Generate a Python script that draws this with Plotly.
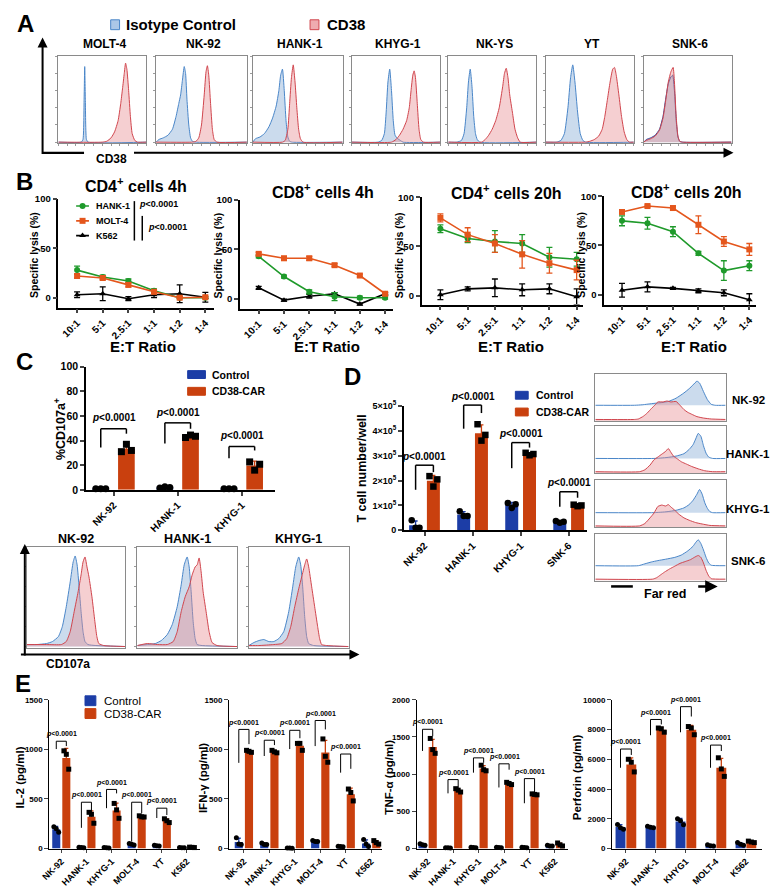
import numpy as np
import plotly.graph_objects as go

W, H = 772, 892
FONT = "Liberation Sans, Arial, Helvetica, sans-serif"
CTRL = "#1c3da6"
CAR = "#c9400e"
GREEN = "#1f9a2b"
ORANGE = "#e4561c"
ISO_LINE = "#4a86c8"
ISO_FILL = "rgba(140,175,215,0.45)"
CD38_LINE = "#d0454d"
CD38_FILL = "rgba(230,140,145,0.42)"

# ======================= DATA =======================
# ---- Panel A: flow histograms (channel 0-100, % of max) ----
A_LINES = ["MOLT-4", "NK-92", "HANK-1", "KHYG-1", "NK-YS", "YT", "SNK-6"]
A_MOLT4_ISO = [(0, 0), (26, 0), (28, 3), (29.3, 50), (30, 88), (30.7, 50), (32, 3), (34, 0), (100, 0)]
A_MOLT4_CD38 = [(0, 0), (50, 0), (55, 1), (60, 5), (64, 12), (68, 25), (71, 45), (73, 62), (75, 80), (76.5, 92),
                (78, 85), (80, 60), (82, 30), (84, 10), (87, 2), (90, 0), (100, 0)]
A_NK92_ISO = [(0, 0), (3, 3), (8, 5), (13, 8), (18, 15), (22, 30), (25, 45), (27, 55), (29, 72), (31, 88),
              (32.5, 80), (34, 50), (36, 20), (38, 5), (40, 1), (43, 0), (100, 0)]
A_NK92_CD38 = [(0, 0), (40, 0), (44, 1), (47, 5), (50, 20), (53, 55), (55, 82), (56.5, 89), (58, 78), (60, 45),
               (62, 15), (64, 3), (67, 0), (100, 0)]
A_HANK1_ISO = [(0, 0), (3, 4), (8, 6), (13, 10), (18, 18), (22, 28), (26, 42), (29, 60), (31, 78), (33, 85),
               (35, 60), (37, 25), (39, 6), (41, 1), (44, 0), (100, 0)]
A_HANK1_CD38 = [(0, 0), (33, 0), (36, 2), (39, 15), (41, 45), (43, 75), (45, 90), (47, 70), (49, 40), (51, 15),
                (53, 4), (56, 0), (100, 0)]
A_KHYG1_ISO = [(0, 0), (30, 0), (34, 2), (37, 10), (39, 35), (41, 70), (43, 85), (45, 60), (47, 25), (49, 8),
               (52, 4), (55, 2), (58, 0), (100, 0)]
A_KHYG1_CD38 = [(0, 0), (45, 0), (50, 3), (54, 8), (58, 15), (62, 25), (65, 40), (67, 60), (69, 78), (70.5, 83),
                (72, 75), (74, 45), (76, 15), (78, 3), (81, 0), (100, 0)]
A_NKYS_ISO = [(0, 0), (10, 0), (15, 2), (18, 10), (21, 40), (23, 70), (25, 85), (27, 65), (29, 30), (31, 10),
              (33, 3), (36, 0), (100, 0)]
A_NKYS_CD38 = [(0, 0), (38, 0), (42, 3), (46, 8), (50, 15), (54, 25), (58, 40), (62, 65), (64, 80), (66, 86),
               (68, 75), (70, 55), (73, 35), (76, 15), (79, 5), (82, 0), (100, 0)]
A_YT_ISO = [(0, 0), (12, 0), (17, 2), (21, 10), (25, 40), (28, 75), (30.5, 90), (33, 70), (36, 35), (39, 10),
            (42, 2), (45, 0), (100, 0)]
A_YT_CD38 = [(0, 0), (45, 0), (50, 1), (55, 3), (60, 7), (64, 15), (67, 30), (70, 50), (73, 70), (76, 85),
             (78, 87), (80, 78), (83, 55), (86, 30), (89, 12), (92, 3), (95, 0), (100, 0)]
A_SNK6_ISO = [(0, 0), (3, 3), (8, 5), (13, 8), (18, 15), (22, 30), (25, 50), (28, 68), (31, 76), (33, 78),
              (35, 60), (37, 25), (39, 6), (41, 1), (44, 0), (100, 0)]
A_SNK6_CD38 = [(0, 0), (3, 2), (8, 4), (13, 7), (18, 14), (22, 28), (25, 48), (28, 70), (31, 82), (33.5, 87),
               (35, 70), (37, 30), (39, 7), (41, 1), (44, 0), (100, 0)]

# ---- Panel B: specific lysis (%) ----
RATIOS = ["10:1", "5:1", "2.5:1", "1:1", "1:2", "1:4"]
B_CD4_4H_HANK1 = [28, 21, 17, 7, 0, 0]
B_CD4_4H_HANK1_SD = [4, 2, 2, 2, 1, 1]
B_CD4_4H_MOLT4 = [22, 20, 13, 6, 0, 0.5]
B_CD4_4H_MOLT4_SD = [2, 2, 2, 2, 1, 1]
B_CD4_4H_K562 = [3, 4, -1, 3, 4, 0.5]
B_CD4_4H_K562_SD = [3, 7, 2, 3, 9, 5]
B_CD8_4H_HANK1 = [43, 22.5, 7, 2, 1, 1]
B_CD8_4H_HANK1_SD = [1.5, 1.5, 2, 4, 1.5, 1.5]
B_CD8_4H_MOLT4 = [45.5, 41, 41, 34, 23.5, 5]
B_CD8_4H_MOLT4_SD = [1.5, 2, 2, 1.5, 1.5, 1.5]
B_CD8_4H_K562 = [11, -1.5, 2.5, 5, -5.5, 5]
B_CD8_4H_K562_SD = [1.5, 1, 2, 1, 1, 1]
B_CD4_20H_HANK1 = [68, 58, 55, 53, 39, 37]
B_CD4_20H_HANK1_SD = [4, 4, 11, 9, 10, 7]
B_CD4_20H_MOLT4 = [79, 62, 53, 42, 33, 26]
B_CD4_20H_MOLT4_SD = [4, 7, 9, 14, 10, 10]
B_CD4_20H_K562 = [1, 7, 8, 6, 7, -1]
B_CD4_20H_K562_SD = [5, 2, 9, 6, 5, 8]
B_CD8_20H_HANK1 = [75, 72.5, 64, 42, 24.5, 29.5]
B_CD8_20H_HANK1_SD = [5, 6, 5, 2, 10, 5]
B_CD8_20H_MOLT4 = [84, 90, 88, 71, 54, 46]
B_CD8_20H_MOLT4_SD = [1, 1, 2, 9, 5, 6]
B_CD8_20H_K562 = [4.5, 8, 6.5, 4, 2, -5]
B_CD8_20H_K562_SD = [7, 5, 1, 2, 3, 6]

# ---- Panel C: %CD107a+ ----
C_LINES = ["NK-92", "HANK-1", "KHYG-1"]
C_CTRL_PTS = [[1, 1, 1], [1.5, 2.5, 2], [1, 1, 1]]
C_CAR_PTS = [[31, 37, 32], [42.5, 44.5, 43.5], [22.7, 16, 20.8]]
C_NK92_CTRL = [(0, 2), (10, 2), (20, 3), (26, 5), (32, 10), (36, 20), (40, 40), (44, 65), (47, 85), (49, 91),
               (51, 82), (53, 60), (55, 35), (57, 15), (59, 5), (62, 2), (70, 1), (100, 0)]
C_NK92_CAR = [(0, 2), (20, 2), (35, 2), (40, 5), (44, 15), (48, 35), (52, 55), (55, 72), (57, 85), (59, 90),
              (61, 80), (63, 70), (66, 50), (69, 25), (71, 10), (73, 3), (78, 1), (100, 0)]
C_HANK1_CTRL = [(0, 1), (10, 2), (18, 3), (24, 6), (30, 12), (35, 22), (40, 40), (44, 62), (47, 82), (50, 90),
                (52, 80), (54, 55), (56, 25), (58, 8), (60, 2), (65, 1), (100, 0)]
C_HANK1_CAR = [(0, 1), (10, 3), (20, 2), (30, 2), (36, 5), (40, 15), (44, 35), (48, 50), (52, 60), (55, 72),
               (58, 80), (60, 82), (62, 89), (64, 75), (66, 55), (69, 35), (72, 15), (75, 4), (80, 1), (100, 0)]
C_KHYG1_CTRL = [(0, 1), (5, 4), (10, 6), (15, 7), (20, 5), (25, 5), (30, 8), (35, 15), (40, 35), (44, 60),
                (47, 80), (50, 90), (52, 82), (54, 60), (56, 30), (58, 10), (60, 3), (65, 1), (100, 0)]
C_KHYG1_CAR = [(0, 1), (10, 1), (25, 2), (33, 3), (38, 8), (42, 20), (46, 40), (50, 58), (53, 70), (56, 82),
               (58, 88), (60, 80), (63, 60), (66, 40), (69, 20), (71, 8), (73, 2), (78, 1), (100, 0)]

# ---- Panel D: T cell number/well ----
D_LINES = ["NK-92", "HANK-1", "KHYG-1", "SNK-6"]
D_CTRL_PTS = [[0.4e5, 0.1e5, 0.1e5], [0.77e5, 0.57e5, 0.57e5], [1.1e5, 0.9e5, 1.05e5], [0.37e5, 0.30e5, 0.34e5]]
D_CAR_PTS = [[2.18e5, 1.76e5, 2.05e5], [4.27e5, 3.61e5, 3.84e5], [3.12e5, 3.02e5, 3.07e5], [1.03e5, 0.97e5, 1.0e5]]
D_TICKS = [0, 1e5, 2e5, 3e5, 4e5, 5e5]
D_TICKTEXT = ["0", "1×10<sup>5</sup>", "2×10<sup>5</sup>", "3×10<sup>5</sup>", "4×10<sup>5</sup>", "5×10<sup>5</sup>"]
D_NK92_CTRL = [(0, 33), (30, 33), (36, 34), (45, 37), (52, 39), (56, 41), (62, 48), (68, 59), (72, 68), (75, 76),
               (78, 84), (80, 80), (83, 62), (86, 45), (89, 35), (92, 33), (100, 33)]
D_NK92_CAR = [(0, 3), (30, 3), (33, 4), (37, 10), (40, 17), (43, 26), (46, 34), (48, 40), (52, 40), (55, 42),
              (58, 40), (62, 41), (65, 33), (68, 24), (71, 18), (74, 14), (78, 9), (83, 6), (89, 4), (100, 3)]
D_HANK1_CTRL = [(0, 31), (45, 31), (55, 33), (62, 36), (68, 41), (72, 50), (75, 60), (77, 72), (79, 84), (81, 78),
                (83, 58), (85, 42), (87, 34), (90, 31), (100, 31)]
D_HANK1_CAR = [(0, 3), (34, 3), (38, 7), (42, 17), (45, 28), (48, 34), (51, 40), (54, 46), (56, 52), (58, 44),
               (60, 36), (63, 30), (66, 24), (70, 19), (74, 14), (79, 9), (84, 5), (90, 3), (100, 3)]
D_KHYG1_CTRL = [(0, 31), (45, 31), (55, 33), (62, 36), (68, 41), (72, 48), (75, 57), (78, 70), (80, 80), (82, 70),
                (84, 52), (86, 40), (88, 33), (90, 31), (100, 31)]
D_KHYG1_CAR = [(0, 3), (34, 3), (38, 8), (42, 20), (45, 30), (48, 44), (51, 47), (54, 45), (56, 48), (58, 43),
               (61, 36), (64, 28), (68, 20), (72, 15), (77, 10), (82, 7), (88, 4), (100, 3)]
D_SNK6_CTRL = [(0, 32), (33, 32), (38, 36), (43, 40), (48, 43), (54, 46), (61, 50), (66, 55), (71, 64), (75, 74),
               (77, 82), (79, 88), (81, 80), (83, 66), (85, 50), (87, 38), (89, 33), (100, 32)]
D_SNK6_CAR = [(0, 3), (44, 3), (47, 6), (50, 12), (53, 18), (57, 25), (61, 31), (65, 37), (69, 41), (73, 45),
              (76, 50), (79, 54), (81, 50), (83, 38), (85, 22), (87, 10), (89, 4), (100, 3)]

# ---- Panel E: cytokines (pg/ml) ----
E_LINES = ["NK-92", "HANK-1", "KHYG-1", "MOLT-4", "YT", "K562"]
PERF_LINES = ["NK-92", "HANK-1", "KHYG1", "MOLT-4", "K562"]
IL2_CTRL = [[220, 200, 165], [12, 10, 8], [10, 8, 6], [50, 43, 36], [32, 28, 25], [10, 8, 7]]
IL2_CAR = [[985, 950, 800], [365, 345, 255], [455, 390, 305], [330, 320, 318], [300, 280, 262], [14, 12, 10]]
IFN_CTRL = [[110, 45, 40], [55, 40, 40], [6, 5, 4], [80, 70, 70], [22, 20, 18], [90, 45, 20]]
IFN_CAR = [[990, 980, 970], [990, 975, 965], [1060, 1060, 990], [1105, 930, 870], [600, 565, 480], [80, 60, 45]]
TNF_CTRL = [[65, 50, 45], [12, 10, 8], [18, 15, 12], [18, 15, 12], [18, 15, 12], [45, 35, 35]]
TNF_CAR = [[1480, 1330, 1280], [805, 785, 760], [1120, 1060, 1045], [890, 875, 860], [735, 728, 722], [75, 50, 35]]
PERF_CTRL = [[1620, 1400, 1300], [1500, 1430, 1390], [2000, 1870, 1600], [250, 180, 170], [400, 290, 220]]
PERF_CAR = [[6000, 5800, 5150], [8100, 8050, 7820], [8200, 8100, 7650], [6100, 5350, 4850], [500, 440, 400]]

# significance brackets: (group, top, left-leg end, right-leg end) in data units
C_BRACKETS = [(0, 49.6, 34.4, 45.6), (1, 54.4, 37.6, 49.6), (2, 35.2, 25.6, 32)]
D_BRACKETS = [(0, 2.62e5, 1.63e5, 2.34e5), (1, 5.04e5, 4.09e5, 4.72e5), (2, 3.53e5, 2.5e5, 3.33e5),
              (3, 1.55e5, 0.95e5, 1.31e5)]
IL2_BRACKETS = [(0, 1082, 1003, 1033), (1, 467, 209, 367), (2, 596, 407, 556), (3, 467, 70, 357), (4, 407, 308, 338)]
IFN_BRACKETS = [(0, 1201, 864, 1053), (1, 1092, 933, 1043), (2, 1192, 1003, 1112), (3, 1291, 1033, 1201),
                (4, 953, 765, 804)]
TNF_BRACKETS = [(0, 1603, 1312, 1510), (1, 927, 742, 808), (2, 1219, 1020, 1153), (3, 1139, 821, 1060),
                (4, 940, 609, 742)]
PERF_BRACKETS = [(0, 6689, 5430, 6291), (1, 8675, 7616, 8344), (2, 9536, 7815, 8874), (3, 6954, 5430, 6556)]

# ======================= HELPERS =======================
layout = dict(width=W, height=H, margin=dict(l=0, r=0, t=0, b=0), paper_bgcolor="white",
              plot_bgcolor="rgba(0,0,0,0)", showlegend=False, barmode="overlay",
              font=dict(family=FONT, color="black"))
traces, shapes, annots = [], [], []
naxes = [0]


def add_axes(px0, px1, py0, py1, xr, yr, xa=None, ya=None):
    naxes[0] += 1
    n = naxes[0]
    s = "" if n == 1 else str(n)
    xk, yk = "x" + s, "y" + s
    xd = dict(domain=[px0 / W, px1 / W], range=xr, anchor=yk, showgrid=False, zeroline=False, fixedrange=True)
    yd = dict(domain=[1 - py1 / H, 1 - py0 / H], range=yr, anchor=xk, showgrid=False, zeroline=False,
              fixedrange=True)
    if xa:
        xd.update(xa)
    if ya:
        yd.update(ya)
    layout["xaxis" + s] = xd
    layout["yaxis" + s] = yd

    def fx(v):
        return px0 + (v - xr[0]) / (xr[1] - xr[0]) * (px1 - px0)

    def fy(v):
        return py1 - (v - yr[0]) / (yr[1] - yr[0]) * (py1 - py0)

    return xk, yk, fx, fy


def text(px, py, s, size, bold=True, xanchor="center", yanchor="middle", angle=0, color="black"):
    annots.append(dict(x=px / W, y=1 - py / H, xref="paper", yref="paper",
                       text=f"<b>{s}</b>" if bold else s, showarrow=False,
                       font=dict(family=FONT, size=size, color=color),
                       xanchor=xanchor, yanchor=yanchor, textangle=angle))


def seg(x0, y0, x1, y1, width=1.5, color="black"):
    shapes.append(dict(type="line", xref="paper", yref="paper", x0=x0 / W, y0=1 - y0 / H, x1=x1 / W,
                       y1=1 - y1 / H, line=dict(color=color, width=width)))


def rect(x0, y0, x1, y1, fill, line=None):
    shapes.append(dict(type="rect", xref="paper", yref="paper", x0=x0 / W, y0=1 - y1 / H, x1=x1 / W,
                       y1=1 - y0 / H, fillcolor=fill, line=dict(color=line or fill, width=1)))


def arrow(hx, hy, tx, ty, width=2):
    annots.append(dict(x=hx / W, y=1 - hy / H, xref="paper", yref="paper", ax=tx - hx, ay=ty - hy,
                       axref="pixel", ayref="pixel", text="", showarrow=True, arrowhead=2, arrowsize=1,
                       arrowwidth=width, arrowcolor="black"))


PTXT = "<i>p</i>&lt;0.0001"


def brackets(fx, fy, spec, off, size, dy, lw):
    for g, top, lb, rb in spec:
        xl, xr_ = fx(g - off), fx(g + off)
        seg(xl, fy(lb), xl, fy(top), lw)
        seg(xl, fy(top), xr_, fy(top), lw)
        seg(xr_, fy(top), xr_, fy(rb), lw)
        text((xl + xr_) / 2, fy(top) - dy, PTXT, size)


def hist_axes(px0, px1, py0, py1, yr=(-1, 100), xticks=True, yticks=True):
    ax = dict(showline=True, mirror=True, linecolor="#8a8a8a", linewidth=1, showticklabels=False,
              ticks="outside" if xticks else "", ticklen=2, tickcolor="#9a9a9a", dtick=10, tick0=0)
    ay = dict(showline=True, mirror=True, linecolor="#8a8a8a", linewidth=1, showticklabels=False,
              ticks="outside" if yticks else "", ticklen=2, tickcolor="#9a9a9a", dtick=20, tick0=0)
    return add_axes(px0, px1, py0, py1, [0, 100], list(yr), ax, ay)


def hist_trace(pts, xk, yk, line, fill, mode="tozeroy"):
    traces.append(go.Scatter(x=[p[0] for p in pts], y=[p[1] for p in pts], xaxis=xk, yaxis=yk, mode="lines",
                             line=dict(color=line, width=1, shape="spline", smoothing=0.5),
                             fill=mode, fillcolor=fill, hoverinfo="skip"))


def bar_panel(px0, px1, py0, py1, xr, yr, names, ctrl_pts, car_pts, off, bw, msize, yticks, yticktext,
              ytick_size, xtick_size, lw=1.5, xticklen=4):
    xa = dict(showline=True, linecolor="black", linewidth=lw, ticks="outside", ticklen=xticklen, tickwidth=lw,
              tickvals=list(range(len(names))), ticktext=names, tickangle=-45,
              tickfont=dict(family=FONT, size=xtick_size, color="black", weight="bold"))
    ya = dict(showline=True, linecolor="black", linewidth=lw, ticks="outside", ticklen=4, tickwidth=lw,
              tickvals=yticks, ticktext=yticktext,
              tickfont=dict(family=FONT, size=ytick_size, color="black", weight="bold"))
    xk, yk, fx, fy = add_axes(px0, px1, py0, py1, xr, yr, xa, ya)
    idx = np.arange(len(names))
    for pts, sgn, col, sym in [(ctrl_pts, -1, CTRL, "circle"), (car_pts, 1, CAR, "square")]:
        means = [float(np.mean(p)) for p in pts]
        sds = [float(np.std(p, ddof=1)) for p in pts]
        traces.append(go.Bar(x=idx + sgn * off, y=means, width=bw, xaxis=xk, yaxis=yk,
                             marker=dict(color=col, line=dict(width=0)),
                             error_y=dict(type="data", array=sds, visible=True, color=col, thickness=1.3,
                                          width=2)))
        jit = [-bw * 0.3, 0, bw * 0.3]
        px_, py_ = [], []
        for i, p in enumerate(pts):
            for j, v in enumerate(p):
                px_.append(i + sgn * off + jit[j])
                py_.append(v)
        traces.append(go.Scatter(x=px_, y=py_, xaxis=xk, yaxis=yk, mode="markers", cliponaxis=False,
                                 marker=dict(symbol=sym, size=msize, color="black"), hoverinfo="skip"))
    return fx, fy


def line_panel(px0, px1, py0, py1, xr, yr, series):
    xa = dict(showline=True, linecolor="black", linewidth=1.5, ticks="outside", ticklen=4, tickwidth=1.5,
              tickvals=list(range(len(RATIOS))), ticktext=RATIOS, tickangle=-45,
              tickfont=dict(family=FONT, size=10, color="black", weight="bold"))
    ya = dict(showline=True, linecolor="black", linewidth=1.5, ticks="outside", ticklen=4, tickwidth=1.5,
              tickvals=[0, 50, 100], tickfont=dict(family=FONT, size=9.5, color="black", weight="bold"))
    xk, yk, fx, fy = add_axes(px0, px1, py0, py1, xr, yr, xa, ya)
    for vals, sds, col, sym in series:
        traces.append(go.Scatter(x=list(range(len(vals))), y=vals, xaxis=xk, yaxis=yk, mode="lines+markers",
                                 cliponaxis=False, line=dict(color=col, width=1.6),
                                 marker=dict(symbol=sym, size=6, color=col),
                                 error_y=dict(type="data", array=sds, visible=True, color=col, thickness=1.3,
                                              width=3)))
    return fx, fy


# ======================= PANEL A =======================
text(16, 17, "A", 24)
rect(102, 13, 111, 23, "rgba(150,185,225,0.8)", ISO_LINE)
text(116, 18, "Isotype Control", 15, xanchor="left")
rect(304, 13, 313, 23, "rgba(235,150,155,0.8)", CD38_LINE)
text(319, 18, "CD38", 15, xanchor="left")

A_BOX_X = [(49, 138), (148, 240), (246, 337), (346, 436), (444, 533), (543, 632), (642, 731)]
A_DATA = [(A_MOLT4_ISO, A_MOLT4_CD38), (A_NK92_ISO, A_NK92_CD38), (A_HANK1_ISO, A_HANK1_CD38),
          (A_KHYG1_ISO, A_KHYG1_CD38), (A_NKYS_ISO, A_NKYS_CD38), (A_YT_ISO, A_YT_CD38),
          (A_SNK6_ISO, A_SNK6_CD38)]
for (bx0, bx1), name, (iso, cd38) in zip(A_BOX_X, A_LINES, A_DATA):
    xk, yk, fx, fy = hist_axes(bx0, bx1, 50, 138)
    iso_line = "#27459a" if name == "SNK-6" else ISO_LINE
    hist_trace(iso, xk, yk, iso_line, ISO_FILL)
    hist_trace(cd38, xk, yk, CD38_LINE, CD38_FILL)
    text((bx0 + bx1) / 2 + 2, 38, name, 12)

arrow(33, 31, 33, 149)
seg(33, 148, 75, 148, 2.2)
arrow(733, 148, 132, 148)
text(103, 154, "CD38", 12)

# ======================= PANEL B =======================
text(15, 177, "B", 24)
B_SPECS = [
    ((49, 207, 195, 305, [-0.73, 5.35], [-10, 100]),
     [(B_CD4_4H_K562, B_CD4_4H_K562_SD, "black", "triangle-up"),
      (B_CD4_4H_HANK1, B_CD4_4H_HANK1_SD, GREEN, "circle"),
      (B_CD4_4H_MOLT4, B_CD4_4H_MOLT4_SD, ORANGE, "square")],
     "CD4<sup>+</sup> cells 4h", (128, 181), 25, 135),
    ((233, 388, 196, 306, [-0.74, 5.31], [-10, 100]),
     [(B_CD8_4H_K562, B_CD8_4H_K562_SD, "black", "triangle-up"),
      (B_CD8_4H_HANK1, B_CD8_4H_HANK1_SD, GREEN, "circle"),
      (B_CD8_4H_MOLT4, B_CD8_4H_MOLT4_SD, ORANGE, "square")],
     "CD8<sup>+</sup> cells 4h", (317, 187), 211, 321),
    ((417, 581, 193, 302, [-0.69, 5.25], [-9, 100]),
     [(B_CD4_20H_K562, B_CD4_20H_K562_SD, "black", "triangle-up"),
      (B_CD4_20H_HANK1, B_CD4_20H_HANK1_SD, GREEN, "circle"),
      (B_CD4_20H_MOLT4, B_CD4_20H_MOLT4_SD, ORANGE, "square")],
     "CD4<sup>+</sup> cells 20h", (503, 188), 394, 508),
    ((602, 756, 192, 302, [-0.70, 5.27], [-10, 100]),
     [(B_CD8_20H_K562, B_CD8_20H_K562_SD, "black", "triangle-up"),
      (B_CD8_20H_HANK1, B_CD8_20H_HANK1_SD, GREEN, "circle"),
      (B_CD8_20H_MOLT4, B_CD8_20H_MOLT4_SD, ORANGE, "square")],
     "CD8<sup>+</sup> cells 20h", (685, 187), 579, 693),
]
for geo, series, title, (tx, ty), ytx, etx in B_SPECS:
    line_panel(*geo, series)
    text(tx, ty, title, 16)
    text(ytx, 252, "Specific lysis (%)", 10.5, angle=-90)
    text(etx, 345, "E:T Ratio", 15)

# legend for B (drawn with a helper axis in pixel units)
lxk, lyk, _, _ = add_axes(60, 90, 195, 240, [60, 90], [240, 195], dict(visible=False), dict(visible=False))
for yy, col, sym, lab in [(202, GREEN, "circle", "HANK-1"), (217, ORANGE, "square", "MOLT-4"),
                          (232, "black", "triangle-up", "K562")]:
    traces.append(go.Scatter(x=[67, 73.5, 80], y=[yy, yy, yy], xaxis=lxk, yaxis=lyk, mode="lines",
                             line=dict(color=col, width=1.6), hoverinfo="skip", cliponaxis=False))
    traces.append(go.Scatter(x=[73.5], y=[yy], xaxis=lxk, yaxis=lyk, mode="markers", cliponaxis=False,
                             marker=dict(symbol=sym, size=6, color=col), hoverinfo="skip"))
    text(85, yy, lab, 9, xanchor="left")
seg(126, 197, 126, 237, 1.5)
text(129, 200, PTXT, 9, xanchor="left")
seg(134, 212, 134, 237, 1.5)
text(138, 223, PTXT, 9, xanchor="left")

# ======================= PANEL C =======================
text(15, 360, "C", 24)
cfx, cfy = bar_panel(77, 268, 365, 490, [-0.43, 2.51], [0, 100], C_LINES, C_CTRL_PTS, C_CAR_PTS,
                     0.2, 0.26, 7, [0, 20, 40, 60, 80, 100], ["0", "20", "40", "60", "80", "100"], 10.5, 10)
brackets(cfx, cfy, C_BRACKETS, 0.2, 10, 11, 1.5)
text(50, 428, "%CD107a<sup>+</sup>", 12.5, angle=-90)
rect(180, 369, 198, 377, CTRL)
text(203, 373, "Control", 10.5, xanchor="left")
rect(180, 386, 198, 394, CAR)
text(203, 390, "CD38-CAR", 10.5, xanchor="left")

C_BOX_X = [(17, 117), (129, 230), (242, 343)]
C_DATA = [(C_NK92_CTRL, C_NK92_CAR), (C_HANK1_CTRL, C_HANK1_CAR), (C_KHYG1_CTRL, C_KHYG1_CAR)]
for (bx0, bx1), name, (ctl, car) in zip(C_BOX_X, C_LINES, C_DATA):
    xk, yk, fx, fy = hist_axes(bx0, bx1, 548, 650, xticks=False)
    hist_trace(ctl, xk, yk, ISO_LINE, ISO_FILL)
    hist_trace(car, xk, yk, CD38_LINE, CD38_FILL)
    text((bx0 + bx1) / 2, 540, name, 12.5)
arrow(15, 545, 15, 658)
arrow(354, 657, 14, 657)
text(59, 667, "CD107a", 12)

# ======================= PANEL D =======================
text(347, 375, "D", 24)
dfx, dfy = bar_panel(399, 585, 405, 531, [-0.43, 3.39], [0, 5e5], D_LINES, D_CTRL_PTS, D_CAR_PTS,
                     0.185, 0.27, 6.5, D_TICKS, D_TICKTEXT, 9, 10)
brackets(dfx, dfy, D_BRACKETS, 0.185, 10, 9, 1.5)
text(357, 468, "T cell number/well", 12.5, angle=-90)
rect(512, 390, 525, 398, CTRL)
text(531, 394, "Control", 10.5, xanchor="left")
rect(512, 407, 525, 415, CAR)
text(531, 411, "CD38-CAR", 10.5, xanchor="left")

D_BOX_Y = [(372, 420), (425, 473), (480, 528), (535, 582)]
D_DATA = [(D_NK92_CTRL, D_NK92_CAR), (D_HANK1_CTRL, D_HANK1_CAR), (D_KHYG1_CTRL, D_KHYG1_CAR),
          (D_SNK6_CTRL, D_SNK6_CAR)]
D_LABEL_Y = [399, 454, 509, 562]
for (by0, by1), name, (ctl, car), ly in zip(D_BOX_Y, D_LINES, D_DATA, D_LABEL_Y):
    xk, yk, fx, fy = hist_axes(593, 725, by0, by1, yr=(0, 100), xticks=False, yticks=False)
    hist_trace(ctl, xk, yk, ISO_LINE, ISO_FILL, mode="toself")
    hist_trace(car, xk, yk, CD38_LINE, CD38_FILL)
    text(748, ly, name, 11.5)
seg(609, 588, 631, 588, 2.5)
arrow(717, 588, 696, 588, 2.5)
text(664, 596, "Far red", 12.5)

# ======================= PANEL E =======================
text(13, 687, "E", 24)
E_SPECS = [
    (40, 192, [-0.47, 5.5], [0, 1500], E_LINES, IL2_CTRL, IL2_CAR, IL2_BRACKETS, [0, 500, 1000, 1500],
     "IL-2 (pg/ml)", 10, 0.2, 0.32),
    (222, 377, [-0.58, 5.43], [0, 1500], E_LINES, IFN_CTRL, IFN_CAR, IFN_BRACKETS, [0, 500, 1000, 1500],
     "IFN-γ (pg/ml)", 195, 0.2, 0.32),
    (412, 565, [-0.43, 5.5], [0, 2000], E_LINES, TNF_CTRL, TNF_CAR, TNF_BRACKETS,
     [0, 500, 1000, 1500, 2000], "TNF-α (pg/ml)", 384, 0.2, 0.32),
    (610, 762, [-0.46, 4.54], [0, 10000], PERF_LINES, PERF_CTRL, PERF_CAR, PERF_BRACKETS,
     [0, 2000, 4000, 6000, 8000, 10000], "Perforin (pg/ml)", 574, 0.18, 0.33),
]
for px0, px1, xr, yr, names, ctl, car, brk, yt, ytitle, ytx, off, bw in E_SPECS:
    efx, efy = bar_panel(px0, px1, 703, 854, xr, yr, names, ctl, car, off, bw, 5, yt, [str(v) for v in yt],
                         8, 9, 1.3, xticklen=3)
    brackets(efx, efy, brk, off, 7, 7, 1)
    text(ytx, 782, ytitle, 11.5, angle=-90)
rect(76, 699, 87, 709, CTRL)
text(93, 704, "Control", 11.5, bold=False, xanchor="left")
rect(76, 712, 87, 722, CAR)
text(93, 717, "CD38-CAR", 11.5, bold=False, xanchor="left")

layout["shapes"] = shapes
layout["annotations"] = annots
fig = go.Figure(data=traces, layout=layout)
fig.write_html("out.html", config={"displayModeBar": False},
               post_script="document.body.style.margin='0';document.body.style.overflow='hidden';")
